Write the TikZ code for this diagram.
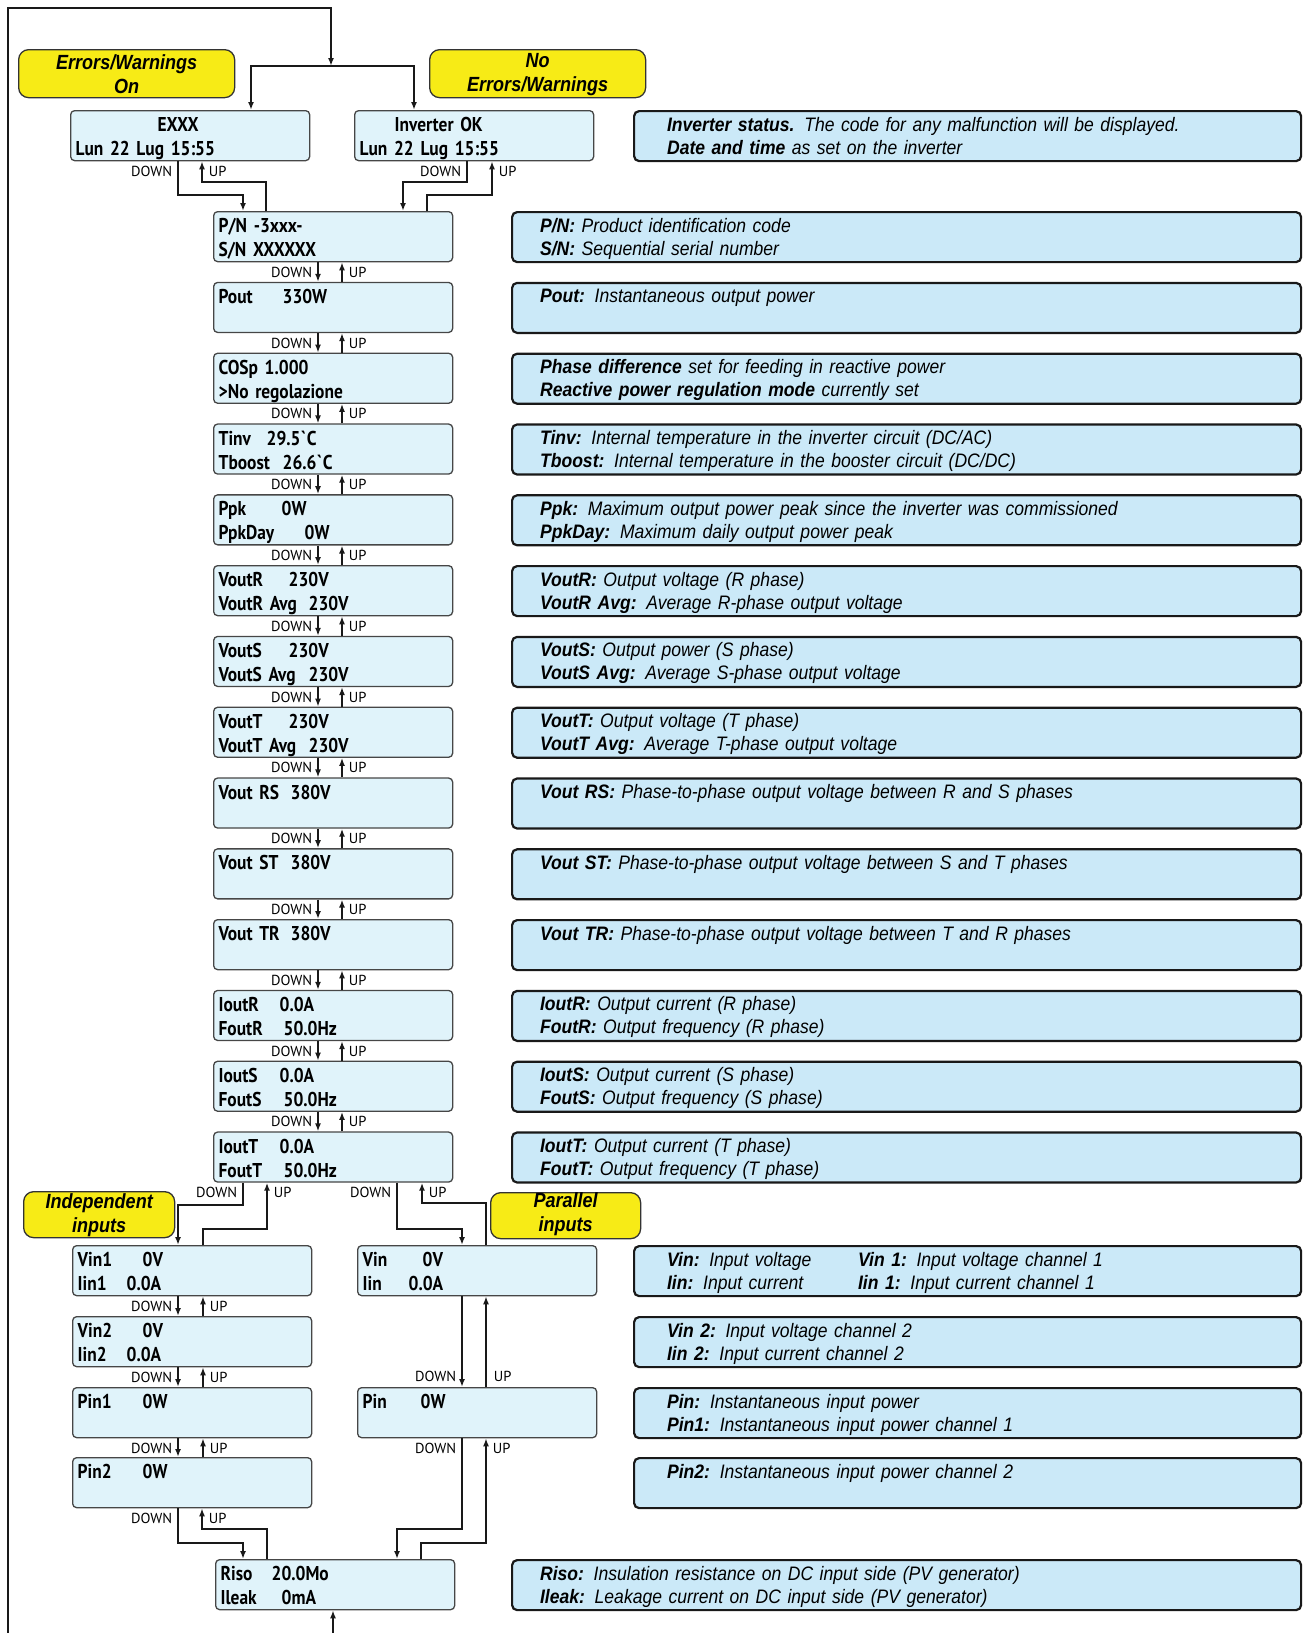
\documentclass[tikz,border=0pt]{standalone}
\usepackage{fontspec}
\newfontfamily\lcdface{PT Sans}[FakeStretch=0.87]
\newfontfamily\navface{PT Sans}
\newfontfamily\infoface{Liberation Sans}[FakeStretch=0.9]
\newfontfamily\tagface{Liberation Sans}[FakeStretch=0.88]
\newcommand\key[1]{{\bfseries #1}}
\usetikzlibrary{arrows.meta}
\definecolor{lcdfill}{RGB}{224,243,250}
\definecolor{infofill}{RGB}{203,233,248}
\definecolor{tagfill}{RGB}{247,235,22}
\definecolor{lcdline}{RGB}{70,70,70}

\begin{document}
\begin{tikzpicture}[x=1pt, y=-1pt,
    lcd/.style={draw=lcdline, line width=1.3pt, fill=lcdfill, rounded corners=4pt, anchor=north west,
      inner xsep=5pt, inner ysep=0pt, text width=229pt, align=left, text height=21pt, text depth=29pt,
      font={\lcdface\bfseries\fontsize{20}{24}\selectfont}},
    info/.style={draw=black!90, line width=2.2pt, fill=infofill, rounded corners=5pt, anchor=north west,
      inner xsep=28pt, inner ysep=0pt, text width=733pt, align=left, text height=20pt, text depth=30pt,
      font={\infoface\itshape\fontsize{19.5}{23}\selectfont}},
    infoR/.style={info, inner xsep=33pt, text width=601pt},
    tag/.style={draw=black!80, line width=1.3pt, fill=tagfill, rounded corners=10pt, anchor=north west,
      inner sep=0pt, align=center, font={\tagface\bfseries\itshape\fontsize{20.5}{24}\selectfont}},
    nav/.style={draw=black!90, line width=1.8pt, -{Latex[length=8pt,width=6pt]}},
    lbl/.style={font={\navface\fontsize{14.5}{15}\selectfont}, inner sep=0pt},
    dlbl/.style={lbl, anchor=base east, xshift=-5pt, yshift=-15pt},
    ulbl/.style={lbl, anchor=base west, xshift=6pt, yshift=-15pt}]
\useasboundingbox (0,0) rectangle (1302,1633);

% state tags
\node[tag, text width=216pt, text height=20pt, text depth=28pt] (errOn) at (18,49) {Errors/Warnings\\On};
\node[tag, text width=216pt, text height=18pt, text depth=30pt] (noErr) at (429,49) {No\\Errors/Warnings};
\node[tag, text width=151pt, text height=17pt, text depth=29pt] (indep) at (23,1191) {Independent\\inputs};
\node[tag, text width=150pt, text height=15pt, text depth=31pt] (paral) at (490,1192) {Parallel\\inputs};

% display screens
\node[lcd] (exxx) at (70,110) {\hspace*{82pt}EXXX\\Lun 22 Lug 15:55};
\node[lcd] (invok) at (354,110) {\hspace*{35pt}Inverter OK\\Lun 22 Lug 15:55};
\node[lcd] (pn) at (213,211) {P/N -3xxx-\\S/N XXXXXX};
\node[lcd] (pout) at (213,281.8) {\makebox[64pt][l]{Pout}330W};
\node[lcd] (cosp) at (213,352.6) {COSp 1.000\\>No regolazione};
\node[lcd] (tinv) at (213,423.4) {\makebox[48pt][l]{Tinv}29.5\textasciigrave C\\\makebox[64pt][l]{Tboost}26.6\textasciigrave C};
\node[lcd] (ppk) at (213,494.2) {\makebox[63pt][l]{Ppk}0W\\\makebox[86pt][l]{PpkDay}0W};
\node[lcd] (voutr) at (213,565) {\makebox[70pt][l]{VoutR}230V\\\makebox[90pt][l]{VoutR Avg}230V};
\node[lcd] (vouts) at (213,635.8) {\makebox[70pt][l]{VoutS}230V\\\makebox[90pt][l]{VoutS Avg}230V};
\node[lcd] (voutt) at (213,706.6) {\makebox[70pt][l]{VoutT}230V\\\makebox[90pt][l]{VoutT Avg}230V};
\node[lcd] (voutrs) at (213,777.4) {\makebox[72pt][l]{Vout RS}380V};
\node[lcd] (voutst) at (213,848.2) {\makebox[72pt][l]{Vout ST}380V};
\node[lcd] (vouttr) at (213,919) {\makebox[72pt][l]{Vout TR}380V};
\node[lcd] (ioutr) at (213,989.8) {\makebox[61pt][l]{IoutR}0.0A\\\makebox[65pt][l]{FoutR}50.0Hz};
\node[lcd] (iouts) at (213,1060.6) {\makebox[61pt][l]{IoutS}0.0A\\\makebox[65pt][l]{FoutS}50.0Hz};
\node[lcd] (ioutt) at (213,1131.4) {\makebox[61pt][l]{IoutT}0.0A\\\makebox[65pt][l]{FoutT}50.0Hz};
\node[lcd] (vin1) at (72,1245) {\makebox[65pt][l]{Vin1}0V\\\makebox[49pt][l]{Iin1}0.0A};
\node[lcd] (vin2) at (72,1316) {\makebox[65pt][l]{Vin2}0V\\\makebox[49pt][l]{Iin2}0.0A};
\node[lcd] (pin1) at (72,1387) {\makebox[65pt][l]{Pin1}0W};
\node[lcd] (pin2) at (72,1457) {\makebox[65pt][l]{Pin2}0W};
\node[lcd] (vin) at (357,1245) {\makebox[60pt][l]{Vin}0V\\\makebox[46pt][l]{Iin}0.0A};
\node[lcd] (pin) at (357,1387) {\makebox[58pt][l]{Pin}0W};
\node[lcd] (riso) at (215,1559) {\makebox[51pt][l]{Riso}20.0Mo\\\makebox[61pt][l]{Ileak}0mA};

% descriptions
\node[infoR] (statusD) at (633,110) {\key{Inverter status.} The code for any malfunction will be displayed.\\\key{Date and time} as set on the inverter};
\node[info] (pnD) at (511,211) {\key{P/N:} Product identification code\\\key{S/N:} Sequential serial number};
\node[info] (poutD) at (511,281.8) {\key{Pout:} Instantaneous output power};
\node[info] (cospD) at (511,352.6) {\key{Phase difference} set for feeding in reactive power\\\key{Reactive power regulation mode} currently set};
\node[info] (tinvD) at (511,423.4) {\key{Tinv:} Internal temperature in the inverter circuit (DC/AC)\\\key{Tboost:} Internal temperature in the booster circuit (DC/DC)};
\node[info] (ppkD) at (511,494.2) {\key{Ppk:} Maximum output power peak since the inverter was commissioned\\\key{PpkDay:} Maximum daily output power peak};
\node[info] (voutrD) at (511,565) {\key{VoutR:} Output voltage (R phase)\\\key{VoutR Avg:} Average R-phase output voltage};
\node[info] (voutsD) at (511,635.8) {\key{VoutS:} Output power (S phase)\\\key{VoutS Avg:} Average S-phase output voltage};
\node[info] (vouttD) at (511,706.6) {\key{VoutT:} Output voltage (T phase)\\\key{VoutT Avg:} Average T-phase output voltage};
\node[info] (voutrsD) at (511,777.4) {\key{Vout RS:} Phase-to-phase output voltage between R and S phases};
\node[info] (voutstD) at (511,848.2) {\key{Vout ST:} Phase-to-phase output voltage between S and T phases};
\node[info] (vouttrD) at (511,919) {\key{Vout TR:} Phase-to-phase output voltage between T and R phases};
\node[info] (ioutrD) at (511,989.8) {\key{IoutR:} Output current (R phase)\\\key{FoutR:} Output frequency (R phase)};
\node[info] (ioutsD) at (511,1060.6) {\key{IoutS:} Output current (S phase)\\\key{FoutS:} Output frequency (S phase)};
\node[info] (iouttD) at (511,1131.4) {\key{IoutT:} Output current (T phase)\\\key{FoutT:} Output frequency (T phase)};
\node[infoR] (vinD) at (633,1245) {\makebox[191pt][l]{\key{Vin:} Input voltage}\key{Vin 1:} Input voltage channel 1\\\makebox[191pt][l]{\key{Iin:} Input current}\key{Iin 1:} Input current channel 1};
\node[infoR] (vin2D) at (633,1316) {\key{Vin 2:} Input voltage channel 2\\\key{Iin 2:} Input current channel 2};
\node[infoR] (pinD) at (633,1387) {\key{Pin:} Instantaneous input power\\\key{Pin1:} Instantaneous input power channel 1};
\node[infoR] (pin2D) at (633,1457) {\key{Pin2:} Instantaneous input power channel 2};
\node[info] (risoD) at (511,1559) {\key{Riso:} Insulation resistance on DC input side (PV generator)\\\key{Ileak:} Leakage current on DC input side (PV generator)};

% loop back from the last screen to the first
\coordinate (loopout) at (8,1633);
\coordinate (loopin) at (333,1633);
\coordinate (split) at (331,66);
\draw[nav] (loopout) |- (split |- 0,8) -- (split);
\draw[nav] (split) -| (exxx.north -| 251,0);
\draw[nav] (split) -| (invok.north -| 414,0);
\draw[nav] (loopin) -- (riso.south -| loopin);

% status screens to P/N
\draw[nav] (exxx.south -| 178,0) node[dlbl] {DOWN} |- (243,195) -- (pn.north -| 243,0);
\draw[nav] (pn.north -| 266,0) |- (202,182) -- (exxx.south -| 202,0) node[ulbl] {UP};
\draw[nav] (invok.south -| 467,0) node[dlbl] {DOWN} |- (403,182) -- (pn.north -| 403,0);
\draw[nav] (pn.north -| 427,0) |- (492,195) -- (invok.south -| 492,0) node[ulbl] {UP};

% main column
\foreach \a/\b in {pn/pout, pout/cosp, cosp/tinv, tinv/ppk, ppk/voutr, voutr/vouts, vouts/voutt,
    voutt/voutrs, voutrs/voutst, voutst/vouttr, vouttr/ioutr, ioutr/iouts, iouts/ioutt} {
  \draw[nav] (\a.south -| 318,0) node[dlbl] {DOWN} -- (\b.north -| 318,0);
  \draw[nav] (\b.north -| 342,0) -- (\a.south -| 342,0) node[ulbl] {UP};
}

% split into independent / parallel inputs
\draw[nav] (ioutt.south -| 243,0) node[dlbl] {DOWN} |- (178,1205) -- (vin1.north -| 178,0);
\draw[nav] (vin1.north -| 203,0) |- (267,1229) -- (ioutt.south -| 267,0) node[ulbl] {UP};
\draw[nav] (ioutt.south -| 397,0) node[dlbl] {DOWN} |- (462,1229) -- (vin.north -| 462,0);
\draw[nav] (vin.north -| 486,0) |- (422,1203) -- (ioutt.south -| 422,0) node[ulbl] {UP};

\foreach \a/\b in {vin1/vin2, vin2/pin1, pin1/pin2} {
  \draw[nav] (\a.south -| 178,0) node[dlbl] {DOWN} -- (\b.north -| 178,0);
  \draw[nav] (\b.north -| 203,0) -- (\a.south -| 203,0) node[ulbl] {UP};
}
\draw[nav] (vin.south -| 462,0) -- (pin.north -| 462,0) node[lbl, anchor=base east, xshift=-5pt, yshift=6pt] {DOWN};
\draw[nav] (pin.north -| 486,0) node[lbl, anchor=base west, xshift=7pt, yshift=6pt] {UP} -- (vin.south -| 486,0);

% back together at Riso
\draw[nav] (pin2.south -| 178,0) node[dlbl] {DOWN} |- (243,1543) -- (riso.north -| 243,0);
\draw[nav] (riso.north -| 267,0) |- (202,1529) -- (pin2.south -| 202,0) node[ulbl] {UP};
\draw[nav] (pin.south -| 462,0) node[dlbl] {DOWN} |- (397,1529) -- (riso.north -| 397,0);
\draw[nav] (riso.north -| 421,0) |- (486,1543) -- (pin.south -| 486,0) node[ulbl] {UP};
\end{tikzpicture}
\end{document}
